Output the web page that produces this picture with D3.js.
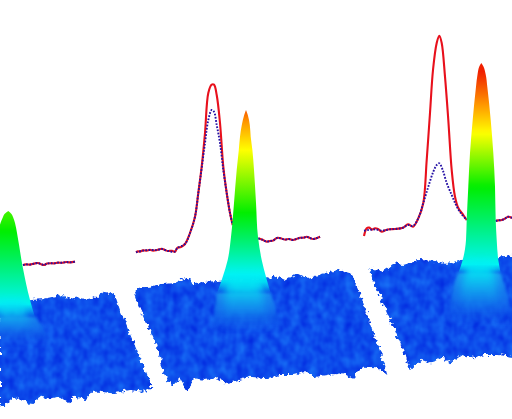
<!DOCTYPE html>
<html><head><meta charset="utf-8">
<script src="https://cdn.jsdelivr.net/npm/d3@7"></script>
<style>html,body{margin:0;padding:0;background:#fff}svg{display:block}</style>
</head><body><svg id="c" width="512" height="419"></svg>
<script>
// Values: [position, signal] in plot units.
const redA=[[23,265],[26,264.4],[30,264.6],[34,263.6],[38,263],[41,264.2],[44,265],[47,263.6],[50,263.2],[54,263.4],[58,262.6],[62,262.8],[66,262],[70,262.4],[75,261.6]];
const redB=[[136,252.3],[138,251.4],[140,251.6],[143,250.4],[146.7,250.6],[150,249.8],[153,250.6],[157,250],[161.7,248.8],[165,250],[168,251],[172,250.8],[175,251.8],[177.3,247.8],[181,247],[185,244],[190,233],[195,216.7],[198.3,193],[201.7,166.7],[205,133],[208.3,93],[211.7,84.7],[214,84.7],[216.7,95],[220,123],[223.3,166.7],[226.7,193],[230,213],[232.7,225]];
const blueB=[[136,252.3],[143,250.6],[150,250],[157,250],[161.7,249],[168,251],[175,251.4],[177.3,248],[185,244],[190,233],[195,216.7],[198.3,193],[201.7,168],[205,143],[208.3,120],[211.7,110],[214,111.7],[216.7,125],[220,143],[223.3,170],[226.7,193],[230,213],[232.7,225]];
const redB2=[[258.3,238.3],[262,239.6],[266.7,241.6],[270,241],[273,240.6],[276,238.4],[278,237.7],[282,238.8],[285,239.6],[289,239],[293,240],[297,238.8],[300,237.8],[304,237.6],[306.7,236.8],[310,238],[313,239],[317,238],[320,236.7]];
const redC=[[364,236],[366.7,228.3],[369,227.6],[372,229.6],[375,228.3],[378,229],[381.7,231.7],[386,230],[390,229.3],[395,229],[403,227.7],[408,224.3],[413,226.7],[418.3,218.3],[423.3,203],[426.7,160],[430,113],[433,70],[436.7,43],[439.3,35.7],[441.7,43],[445,76.7],[448.3,120],[451.7,170],[455,196.7],[458.3,208],[463.3,215],[466.7,220]];
const blueC=[[364,230.7],[368,230],[372,229.6],[376,229.4],[381.7,230.6],[386,230],[390,229.3],[395,229],[403,227.7],[408,225],[413,226],[418.3,218.3],[423.3,203],[428.3,186.7],[433.3,171.7],[436.7,165],[439.3,163.3],[442.7,170],[446.7,183],[451.7,195],[456,205],[460,212],[466.7,220]];
const redC2=[[495.7,221],[498,220.4],[501.7,220],[505,218.6],[508,216.7],[512,218]];

const surfaceA=[[0,303],[31.7,300],[43,299],[53,296.7],[61.7,295],[70,299],[80,297.3],[88,299],[96.7,296.7],[103,291.7],[111.7,293.3],[115,295],[120,310],[128.3,330],[136.7,350],[145,370],[152.3,388.3],[143,391.7],[130,390],[113.3,393.3],[100,391.7],[91.7,391.7],[85,399],[75,396.7],[68.3,403.3],[60,396.7],[50,398.3],[40,396.7],[30,405],[21.7,400],[13.3,398.3],[3.3,406.7],[0,405]];
const surfaceB=[[134,293.3],[140,287.3],[150,286.7],[161.7,284],[173.3,283.3],[180,280],[188.3,278.3],[193.3,283.3],[206.7,281.7],[220,280.7],[245,279],[266.7,278.3],[276.7,276],[285,280],[296.7,273.3],[306.7,278.3],[318.3,275],[330,271.7],[338.3,270],[351.7,274],[360,293.3],[370,323],[380,350],[387.3,375],[376.7,367.3],[363.3,366.7],[351.7,378.3],[343.3,373.3],[326.7,375],[315,376.7],[306.7,371.7],[293.3,375],[280,375],[266.7,378.3],[250,376.7],[236.7,380.7],[225,383.3],[216.7,378.3],[205,380],[193.3,378.3],[188.3,391.7],[180,378.3],[171.7,385],[165,376.7],[156.7,346.7],[146.7,323],[138.3,305]];
const surfaceC=[[369.3,267.3],[380,270.7],[388.3,268.3],[393.3,263.3],[403.3,265],[418.3,260],[433.3,260.7],[446.7,264],[461.7,260],[480,259],[497.3,258.3],[508.3,255],[514,256.7],[514,357],[498.3,355],[483.3,355],[475,358.3],[461.7,355],[450,363.3],[441.7,356.7],[431.7,363.3],[421.7,360],[410,370],[401.7,346.7],[393.3,326.7],[381.7,300],[374,283.3]];

// Peak profiles: [signal, left, right]
const peakA=[[211,8.3,8.3],[214,4.5,11.5],[217,3,13],[223,0.5,15],[233,-2,17],[267,-5,22.7],[300,-8,30],[317,-10,35],[333,-12,46],[350,-14,52]];
const peakB=[[110,246,246],[115,244.2,247.8],[125,241.8,249.8],[136.7,240,250.7],[150,238.8,252.4],[170,236.7,254],[203,234,256],[237,231,258],[260,227.7,261.7],[277,222.7,266],[293,217,270.7],[307,215,275],[330,212,280]];
const peakC=[[63,481.3,481.3],[66,479.5,483.2],[74,477.6,485.6],[86.7,476,487.3],[120,472.7,490.7],[153,470,493.3],[186.7,468.3,495],[220,466.7,495.7],[240,466,496.7],[260,462.7,498.3],[273,458.3,500.7],[287,453,505],[307,450,510],[325,448,514]];

// Level of the colour ramp (0 blue … 4 red) against signal
const levels=[0,1,2,3,3.55,4];
const rampColors=["#0e50e8","#00f4f4","#00ee00","#ffff00","#ff9800","#f02000"];
const levelsA=[[1,305],[2,231]];
const levelsB=[[1,274],[2,213],[3,150],[3.55,122]];
const levelsC=[[1,265],[2,187],[3,133],[3.55,105],[4,72]];
// Signal where each peak meets its sheet, and where its foot dies out
const meetA=[308,345], meetB=[285,335], meetC=[270,325];

const width=512,height=419;
const x=d3.scaleLinear().domain([0,512]).range([0,width]);
const y=d3.scaleLinear().domain([0,419]).range([0,height]);
const ramp=d3.scaleLinear().domain(levels).range(rampColors);
const svg=d3.select("#c");
const defs=svg.append("defs");

const f=defs.append("filter").attr("id","rough").attr("x","-5%").attr("y","-5%").attr("width","110%").attr("height","110%").attr("color-interpolation-filters","sRGB");
f.append("feTurbulence").attr("type","fractalNoise").attr("baseFrequency",0.25).attr("numOctaves",2).attr("seed",7).attr("result","edge");
f.append("feDisplacementMap").attr("in","SourceGraphic").attr("in2","edge").attr("scale",7).attr("xChannelSelector","R").attr("yChannelSelector","G").attr("result","shape");
f.append("feTurbulence").attr("type","fractalNoise").attr("baseFrequency","0.11 0.09").attr("numOctaves",2).attr("seed",3).attr("result","n");
f.append("feColorMatrix").attr("in","n").attr("type","matrix")
 .attr("values","0.1 0 0 0 0  0.32 0 0 0 0.14  0.1 0 0 0 0.87  0 0 0 0 1").attr("result","tex");
f.append("feComposite").attr("in","tex").attr("in2","shape").attr("operator","in").attr("result","t");
f.append("feGaussianBlur").attr("in","t").attr("stdDeviation",0.6);
const blur=(id,s)=>defs.append("filter").attr("id",id).attr("x","-40%").attr("y","-20%").attr("width","180%").attr("height","140%").attr("color-interpolation-filters","sRGB").append("feGaussianBlur").attr("stdDeviation",s);
blur("soft",0.45); blur("edge",1.4); blur("glow",4);

const line=d3.line().x(d=>x(d[0])).y(d=>y(d[1])).curve(d3.curveCatmullRom.alpha(0.5));
const poly=d3.line().x(d=>x(d[0])).y(d=>y(d[1])).curve(d3.curveLinearClosed);
const area=d3.area().y(d=>y(d[0])).x0(d=>x(d[1])).x1(d=>x(d[2])).curve(d3.curveMonotoneY);

const lines=svg.append("g").attr("filter","url(#soft)").attr("fill","none");
[redA,redB,redB2,redC,redC2].forEach(s=>lines.append("path").attr("d",line(s)).attr("stroke","#e8101c").attr("stroke-width",2.1));
[redA,redB2,redC2].forEach(s=>lines.append("path").attr("d",line(s)).attr("stroke","#2410a4").attr("stroke-width",1.9).attr("stroke-dasharray","1.7 1.5"));
[blueB,blueC].forEach(s=>lines.append("path").attr("d",line(s)).attr("stroke","#2410a4").attr("stroke-width",1.9).attr("stroke-dasharray","1.7 1.5"));

[surfaceA,surfaceB,surfaceC].forEach(s=>svg.append("path").attr("d",poly(s)).attr("fill","#0e50e8").attr("filter","url(#rough)"));

function vGrad(id,y1,y2,stops){
  const g=defs.append("linearGradient").attr("id",id).attr("gradientUnits","userSpaceOnUse")
    .attr("x1",0).attr("x2",0).attr("y1",y(y1)).attr("y2",y(y2));
  stops.forEach(([o,c,a])=>g.append("stop").attr("offset",o).attr("stop-color",c).attr("stop-opacity",a));
}

[[peakA,levelsA,meetA,"a"],[peakB,levelsB,meetB,"b"],[peakC,levelsC,meetC,"c"]].forEach(([p,l,m,id])=>{
  const top=p[0][0];
  const sorted=[...l].sort((a,b)=>a[1]-b[1]);
  const lvl=d3.scaleLinear().domain(sorted.map(d=>d[1])).range(sorted.map(d=>d[0]));
  // wide sheet foot: medium blue sinking to the sheet colour
  vGrad("ft"+id,m[0],m[1],[[0,"#1e9cf0",1],[0.5,"#1474ec",0.85],[1,"#0e50e8",0]]);
  svg.append("path").attr("d",area(p.filter(d=>d[0]>=m[0]-6))).attr("fill","url(#ft"+id+")").attr("filter","url(#edge)");
  // column with the colour ramp, its lowest part dissolving into the foot
  const col=p.filter(d=>d[0]<=m[0]+16);
  const last=col[col.length-1][0];
  vGrad("cl"+id,top,last,d3.range(0,1.0001,0.02).map(o=>{
    const v=top+o*(last-top);
    const a=v<m[0]-4?1:Math.max(0,1-(v-m[0]+4)/(last-m[0]+4));
    return [o,ramp(Math.min(4,Math.max(0.9,lvl(v)))),a];
  }));
  svg.append("path").attr("d",area(col)).attr("fill","url(#cl"+id+")").attr("filter","url(#soft)");
  // soft cyan heart of the foot
  const core=p.filter(d=>d[0]>=m[0]-14&&d[0]<=m[1]).map(d=>{const c=(d[1]+d[2])/2,w=(d[2]-d[1])/2;return [d[0],c-w*0.7,c+w*0.7];});
  vGrad("cr"+id,m[0]-14,m[1]-8,[[0,"#00f2f4",0],[0.2,"#00eef4",0.95],[0.45,"#0cc8f0",0.75],[1,"#1478ea",0]]);
  svg.append("path").attr("d",area(core)).attr("fill","url(#cr"+id+")").attr("filter","url(#glow)");
});
</script></body></html>
